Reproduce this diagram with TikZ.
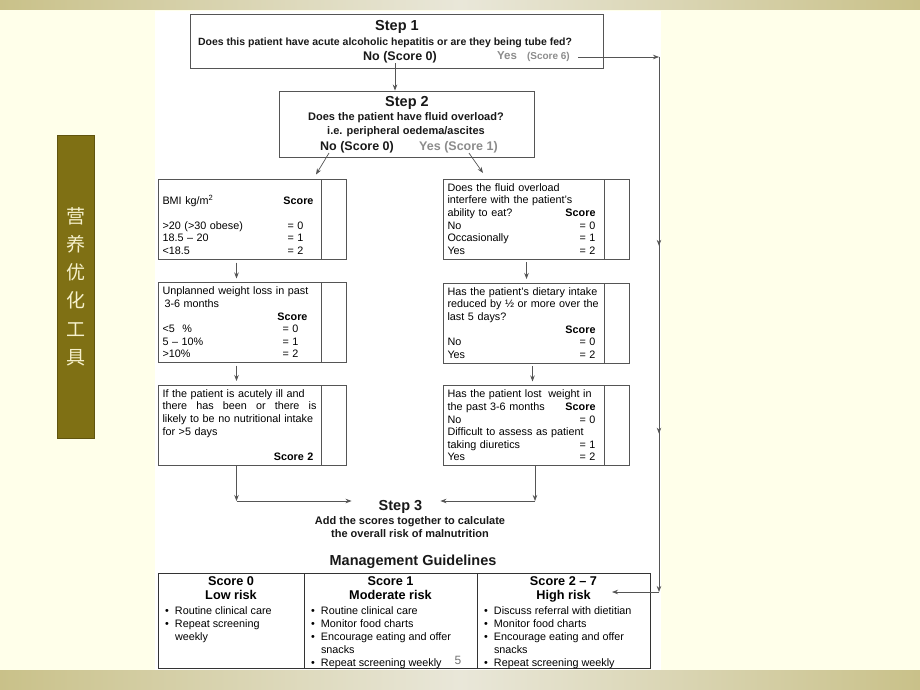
\documentclass[tikz,border=0pt]{standalone}
\usepackage{fontspec}
\setmainfont{Liberation Sans}
\newfontfamily\cjk{Noto Sans CJK SC}
\usetikzlibrary{positioning,arrows.meta,decorations.markings}

\definecolor{pagecream}{RGB}{255,255,234}
\definecolor{barolive}{RGB}{201,193,137}
\definecolor{barlight}{RGB}{233,231,217}
\definecolor{sideolive}{RGB}{127,112,20}
\definecolor{sideedge}{RGB}{96,84,14}
\definecolor{sidetext}{RGB}{246,241,204}
\definecolor{linegray}{RGB}{85,85,85}
\definecolor{yesgray}{RGB}{140,140,140}

\newcommand{\boxfont}{\fontsize{10.8}{12.6}\selectfont}
\newcommand{\sidefont}{\cjk\fontsize{19}{28.2}\selectfont}
\newcommand{\scr}[2][0pt]{\hspace*{\fill}#2\hspace*{#1}\null}
\newcommand{\itm}[1]{\par\hangindent=10pt\hangafter=1\noindent\makebox[10pt][l]{\textbullet}#1}
\newcommand{\cellbox}[4]{\parbox[c][93pt][t]{#1}{\vspace*{3pt}\centering\fontsize{12.7}{14}\selectfont\bfseries #2\\#3\par\vspace{1pt}\raggedright\fontsize{10.8}{13.2}\selectfont\mdseries #4}}

\begin{document}
\begin{tikzpicture}[
        x=1pt, y=-1pt,
        flow/.style={draw=linegray, line width=0.7pt, -{Stealth[length=6pt,width=4.5pt]}},
        midarrows/.style={postaction={decorate}, decoration={markings,
                mark=at position 0.353 with {\arrow{Stealth[length=6pt,width=4.5pt]}},
                mark=at position 0.704 with {\arrow{Stealth[length=6pt,width=4.5pt]}}}},
        stepbox/.style={draw=linegray, line width=0.9pt, inner sep=0pt},
        plain/.style={inner sep=0pt, text=black!90},
        steptitle/.style={plain, font=\fontsize{14.5}{16}\selectfont\bfseries},
        lbox/.style={draw=linegray, line width=0.8pt, align=left, text width=154pt, inner xsep=4.5pt, inner ysep=1pt, minimum height=80pt, outer sep=0pt, font=\boxfont},
        rbox/.style={lbox, text width=152pt},
        sidecol/.style={draw=linegray, line width=0.8pt, minimum width=25pt, minimum height=80pt, inner sep=0pt, outer sep=0pt},
        cell/.style={draw=black!80, line width=0.8pt, inner sep=0pt, outer sep=0pt, minimum height=95pt},
        sidebar/.style={fill=sideolive, draw=sideedge, line width=1pt, minimum width=37pt, minimum height=303pt, align=center, text=sidetext, font=\sidefont}
    ]
    \fill[pagecream] (0,0) rectangle (920,690);
    \useasboundingbox (0,0) rectangle (920,690);
    \shade[left color=barolive, right color=barolive, middle color=barlight] (0,0) rectangle (920,10);
    \shade[left color=barolive, right color=barolive, middle color=barlight] (0,670) rectangle (920,690);
    \fill[white] (155,11) rectangle (661,670);

    \node[sidebar] (side) at (75.5,286.5) {营\\养\\优\\化\\工\\具};

    \node[stepbox, minimum width=413pt, minimum height=54pt] (step1) at (396.5,41) {};
    \node[steptitle] (s1title) at (397,27) {Step 1};
    \node[plain, font=\fontsize{10.5}{12}\selectfont\bfseries] (s1q) at (385,43) {Does this patient have acute alcoholic hepatitis or are they being tube fed?};
    \node[plain, font=\fontsize{12.5}{14}\selectfont\bfseries] (no1) at (400,57) {No (Score 0)};
    \node[plain, text=yesgray, font=\bfseries, anchor=west] (yes1) at (497,57) {\fontsize{11.5}{13}\selectfont Yes\hspace{10pt}\fontsize{10}{12}\selectfont(Score 6)};

    \node[stepbox, minimum width=255pt, minimum height=66pt] (step2) at (406.5,124) {};
    \node[steptitle] (s2title) at (407,103) {Step 2};
    \node[plain, align=center, font=\fontsize{11}{14}\selectfont\bfseries] (s2q) at (406,125) {Does the patient have fluid overload?\\i.e. peripheral oedema/ascites};
    \node[plain, font=\fontsize{12.5}{14}\selectfont\bfseries] (no2) at (357,147) {No (Score 0)};
    \node[plain, text=yesgray, font=\fontsize{12.5}{14}\selectfont\bfseries] (yes2) at (458.5,147) {Yes (Score 1)};

    \node[lbox, text height=8pt, text depth=39pt] (bmi) at (239.5,219.5) {BMI kg/m\textsuperscript{2}\scr[3pt]{\textbf{Score}}\\[12.6pt]
        >20 (>30 obese)\scr[13pt]{= 0}\\
        18.5 -- 20\scr[13pt]{= 1}\\
        <18.5\scr[13pt]{= 2}};
    \node[sidecol, right=0pt of bmi] (bmiscore) {};
    \node[lbox] (wtloss) at (239.5,322.5) {Unplanned weight loss in past\\
        \hspace{2pt}3-6 months\\
        \scr[9pt]{\textbf{Score}}\\
        <5\hspace{4pt} \%\scr[18pt]{= 0}\\
        5 -- 10\%\scr[18pt]{= 1}\\
        >10\%\scr[18pt]{= 2}};
    \node[sidecol, right=0pt of wtloss] (wtlossscore) {};
    \node[lbox] (acute) at (239.5,425) {If the patient is acutely ill and\\
        there\hspace{\fill}has\hspace{\fill}been\hspace{\fill}or\hspace{\fill}there\hspace{\fill}is\\
        likely to be no nutritional intake\\
        for >5 days\\[12.6pt]
        \scr[3pt]{\textbf{Score 2}}};
    \node[sidecol, right=0pt of acute] (acutescore) {};

    \node[rbox] (fluid) at (523.5,219) {Does the fluid overload\\
        interfere with the patient's\\
        ability to eat?\scr[4pt]{\textbf{Score}}\\
        No\scr[4pt]{= 0}\\
        Occasionally\scr[4pt]{= 1}\\
        Yes\scr[4pt]{= 2}};
    \node[sidecol, right=0pt of fluid] (fluidscore) {};
    \node[rbox] (intake) at (523.5,323) {Has the patient's dietary intake\\
        reduced by ½ or more over the\\
        last 5 days?\\
        \scr[4pt]{\textbf{Score}}\\
        No\scr[4pt]{= 0}\\
        Yes\scr[4pt]{= 2}};
    \node[sidecol, right=0pt of intake] (intakescore) {};
    \node[rbox] (lost) at (523.5,425.5) {Has the patient lost\hspace{3pt} weight in\\
        the past 3-6 months\scr[4pt]{\textbf{Score}}\\
        No\scr[4pt]{= 0}\\
        Difficult to assess as patient\\
        taking diuretics\scr[4pt]{= 1}\\
        Yes\scr[4pt]{= 2}};
    \node[sidecol, right=0pt of lost] (lostscore) {};

    \node[steptitle] (step3) at (400.5,507) {Step 3};
    \node[plain, align=center, font=\fontsize{11}{13}\selectfont\bfseries] (s3text) at (410,527.5) {Add the scores together to calculate\\the overall risk of malnutrition};
    \node[plain, font=\fontsize{14.5}{16}\selectfont\bfseries] (mgmt) at (413,562) {Management Guidelines};

    \node[cell, minimum width=146pt] (low) at (231,620.5) {\cellbox{132pt}{Score 0}{Low risk}{\itm{Routine clinical care}\itm{Repeat screening\newline weekly}}};
    \node[cell, minimum width=173pt, right=0pt of low] (moderate) {\cellbox{159pt}{Score 1}{Moderate risk}{\itm{Routine clinical care}\itm{Monitor food charts}\itm{Encourage eating and offer\newline snacks}\itm{Repeat screening weekly}}};
    \node[cell, minimum width=173pt, right=0pt of moderate] (high) {\cellbox{159pt}{Score 2 -- 7}{High risk}{\itm{Discuss referral with dietitian}\itm{Monitor food charts}\itm{Encourage eating and offer\newline snacks}\itm{Repeat screening weekly}}};
    \node[plain, text=black!55, font=\fontsize{12}{14}\selectfont] (pagenum) at (458,660) {5};

    \coordinate (yesturn) at (659,57);
    \coordinate (highturn) at (659,592);
    \coordinate (highin) at (612,592);
    \coordinate (leftturn) at (236.5,501);
    \coordinate (rightturn) at (535,501);

    \draw[flow] ([xshift=-5pt]no1.south) -- ([xshift=-5pt]no1.south |- step2.north);
    \draw[flow, shorten <=8pt] (yes1.east) -- (yesturn);
    \draw[flow, midarrows] (yesturn) -- (highturn);
    \draw[flow] (highturn) -- (highin);
    \draw[flow] ([xshift=9pt]no2.south west) -- ([xshift=-5pt,yshift=5pt]bmi.north east);
    \draw[flow] ([xshift=-29pt]yes2.south east) -- ([xshift=40pt,yshift=6pt]fluid.north west);
    \draw[flow, shorten <=3pt, shorten >=4pt] ([xshift=-3pt]bmi.south) -- ([xshift=-3pt]wtloss.north);
    \draw[flow, shorten <=3pt, shorten >=4pt] ([xshift=-3pt]wtloss.south) -- ([xshift=-3pt]acute.north);
    \draw[flow, shorten <=3pt, shorten >=4pt] ([xshift=3pt]fluid.south) -- ([xshift=3pt]intake.north);
    \draw[flow, shorten <=3pt, shorten >=4pt] ([xshift=9pt]intake.south) -- ([xshift=9pt]lost.north);
    \draw[flow] ([xshift=-3pt]acute.south) -- (leftturn);
    \draw[flow, shorten >=27pt] (leftturn) -- (leftturn -| step3.west);
    \draw[flow] ([xshift=11.5pt]lost.south) -- (rightturn);
    \draw[flow, shorten >=18pt] (rightturn) -- (rightturn -| step3.east);
\end{tikzpicture}
\end{document}
